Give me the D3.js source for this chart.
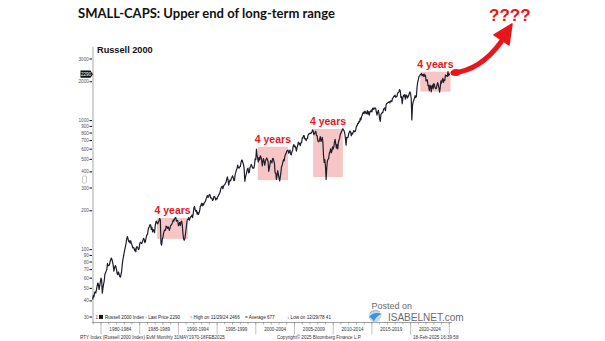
<!DOCTYPE html>
<html>
<head>
<meta charset="utf-8">
<script src="https://cdn.jsdelivr.net/npm/d3@7"></script>
<style>
	html, body { margin: 0; padding: 0; background: #fff; }
	svg { display: block; }
</style>
</head>
<body>
<div id="chart"></div>
<script>
// Russell 2000 monthly closes, Dec 1978 .. Feb 2025
var rtyClose = [
	41, // 1978 Dec
	44, 43, 46, 47, 46, 49, 52, 55, 54, 49, 52, 56, // 1979
	60, 58, 46, 50, 54, 57, 64, 66, 68, 70, 78, 75, // 1980
	75, 76, 80, 83, 86, 84, 80, 75, 68, 72, 75, 74, // 1981
	70, 65, 64, 67, 65, 62, 61, 64, 68, 77, 84, 89, // 1982
	95, 101, 106, 113, 122, 126, 121, 115, 117, 112, 117, 112, // 1983
	109, 103, 104, 103, 98, 101, 96, 105, 105, 104, 100, 101, // 1984
	111, 114, 113, 111, 114, 118, 122, 120, 113, 116, 124, 130, // 1985
	131, 141, 148, 150, 156, 155, 143, 149, 137, 143, 141, 135, // 1986
	152, 163, 166, 160, 158, 164, 168, 174, 170, 112, 108, 120, // 1987
	124, 134, 139, 142, 141, 152, 150, 146, 150, 146, 141, 147, // 1988
	154, 155, 158, 163, 170, 166, 172, 176, 177, 166, 168, 168, // 1989
	153, 158, 162, 153, 164, 166, 156, 135, 121, 118, 121, 132, // 1990
	145, 162, 171, 171, 177, 169, 175, 180, 180, 185, 177, 190, // 1991
	209, 216, 205, 198, 201, 188, 195, 187, 193, 200, 216, 221, // 1992
	228, 218, 227, 221, 230, 233, 237, 247, 255, 262, 254, 259, // 1993
	267, 266, 251, 252, 249, 240, 244, 257, 257, 253, 242, 250, // 1994
	247, 257, 261, 268, 273, 283, 299, 305, 310, 296, 309, 316, // 1995
	318, 328, 333, 351, 366, 347, 316, 336, 346, 341, 355, 363, // 1996
	373, 360, 342, 343, 381, 396, 414, 426, 452, 431, 428, 437, // 1997
	440, 472, 491, 494, 470, 457, 420, 338, 364, 379, 400, 422, // 1998
	427, 393, 397, 432, 440, 458, 445, 429, 428, 427, 453, 505, // 1999
	497, 600, 540, 506, 477, 517, 495, 533, 521, 497, 445, 484, // 2000
	508, 475, 450, 486, 498, 513, 500, 484, 404, 428, 458, 489, // 2001
	483, 470, 506, 510, 487, 463, 393, 392, 350, 375, 409, 383, // 2002
	360, 340, 364, 398, 440, 449, 478, 497, 487, 528, 546, 557, // 2003
	580, 585, 590, 559, 568, 591, 549, 541, 572, 585, 635, 652, // 2004
	624, 634, 615, 579, 617, 640, 680, 656, 667, 640, 675, 673, // 2005
	733, 731, 765, 765, 721, 724, 698, 721, 725, 766, 787, 788, // 2006
	800, 793, 800, 814, 847, 833, 777, 792, 806, 828, 767, 766, // 2007
	705, 686, 687, 714, 751, 689, 706, 740, 680, 537, 473, 499, // 2008
	443, 350, 423, 487, 501, 508, 557, 573, 604, 562, 580, 625, // 2009
	602, 628, 679, 716, 661, 610, 650, 602, 676, 703, 727, 784, // 2010
	798, 823, 843, 865, 848, 828, 797, 726, 644, 741, 737, 741, // 2011
	792, 811, 830, 817, 762, 798, 786, 812, 837, 818, 822, 849, // 2012
	902, 911, 952, 947, 984, 977, 1045, 1011, 1073, 1100, 1143, 1164, // 2013
	1131, 1183, 1173, 1127, 1135, 1193, 1121, 1174, 1102, 1174, 1173, 1205, // 2014
	1165, 1233, 1252, 1220, 1247, 1254, 1238, 1159, 1101, 1162, 1198, 1136, // 2015
	1035, 985, 1114, 1130, 1155, 1152, 1220, 1240, 1252, 1191, 1322, 1357, // 2016
	1362, 1387, 1385, 1400, 1370, 1415, 1425, 1405, 1490, 1502, 1544, 1535, // 2017
	1575, 1512, 1529, 1542, 1634, 1643, 1671, 1740, 1696, 1511, 1533, 1349, // 2018
	1499, 1575, 1540, 1591, 1466, 1567, 1575, 1495, 1523, 1562, 1625, 1668, // 2019
	1614, 1476, 1010, 1310, 1394, 1441, 1480, 1561, 1508, 1538, 1819, 1975, // 2020
	2073, 2201, 2221, 2267, 2269, 2311, 2226, 2274, 2204, 2297, 2199, 2245, // 2021
	2028, 2048, 2070, 1864, 1864, 1708, 1885, 1844, 1665, 1846, 1887, 1761, // 2022
	1932, 1897, 1802, 1768, 1774, 1889, 1966, 1900, 1785, 1662, 1810, 2027, // 2023
	1947, 2055, 2125, 1974, 2070, 2048, 2254, 2218, 2230, 2197, 2400, 2230, // 2024
	2288, 2290 // 2025
];
var firstMonth = new Date(1978, 11, 1);

// the four "4 years" ranges
var boxFrom = [new Date(1987, 3, 1), new Date(2000, 3, 1), new Date(2007, 5, 1), new Date(2021, 3, 1)];
var boxTo = [new Date(1991, 3, 1), new Date(2004, 2, 1), new Date(2011, 3, 1), new Date(2025, 2, 1)];
var boxHigh = [176, 627, 860, 2392];
var boxLow = [121, 345, 365, 1675];
var boxLabel = ['4 years', '4 years', '4 years', '4 years'];

var yTicks = [30, 40, 50, 60, 70, 80, 90, 100, 200, 300, 400, 500, 600, 700, 800, 900, 1000, 2000, 3000];
var periodLabels = ['1980-1984', '1985-1989', '1990-1994', '1995-1999', '2000-2004',
	'2005-2009', '2010-2014', '2015-2019', '2020-2024'];
var legendItems = ['Russell 2000 Index - Last Price 2290', '\u2191 High on 11/29/24 2466',
	'= Average 677', '\u2193 Low on 12/29/78 41'];
var lastPrice = 2290;

(function () {
	var width = 605;
	var height = 341;
	var red = '#e8161b';
	var lineColor = '#1d1d2b';
	var tiny = 4.6;

	var svg = d3.select('#chart').append('svg')
		.attr('width', width).attr('height', height)
		.style('font-family', '"Liberation Sans", Arial, sans-serif');

	var x = d3.scaleTime()
		.domain([new Date(1980, 0, 1), new Date(2025, 0, 1)])
		.range([101, 449.3]);
	var y = d3.scaleLog()
		.domain([30, 3000])
		.range([317, 59]);

	var series = rtyClose.map((v, i) => ({ date: d3.timeMonth.offset(firstMonth, i), value: v }));

	///////////////////////////////////////////////////////////////////////////
	////////// title and labels ///////////////////////////////////////////////
	///////////////////////////////////////////////////////////////////////////
	var title = svg.append('text')
		.attr('x', 78).attr('y', 18)
		.attr('font-family', 'Lato, "Open Sans", sans-serif')
		.attr('font-weight', 700)
		.attr('font-size', 16)
		.attr('fill', '#111')
		.text('SMALL-CAPS: Upper end of long-term range');
	var tw = title.node().getComputedTextLength();
	title.attr('font-size', 16 * 257 / tw);

	svg.append('text')
		.attr('x', 97).attr('y', 53)
		.attr('font-weight', 700)
		.attr('font-size', 9.2)
		.attr('fill', '#111')
		.text('Russell 2000');

	///////////////////////////////////////////////////////////////////////////
	////////// range boxes ////////////////////////////////////////////////////
	///////////////////////////////////////////////////////////////////////////
	var boxes = boxFrom.map((d, i) => ({ from: d, to: boxTo[i], high: boxHigh[i], low: boxLow[i], label: boxLabel[i] }));

	svg.append('g').selectAll('rect')
		.data(boxes)
		.enter().append('rect')
		.attr('x', d => x(d.from))
		.attr('y', d => y(d.high))
		.attr('width', d => x(d.to) - x(d.from))
		.attr('height', d => y(d.low) - y(d.high))
		.attr('fill', '#f6c6c6');

	svg.append('g').selectAll('text')
		.data(boxes)
		.enter().append('text')
		.attr('x', d => (x(d.from) + x(d.to)) / 2)
		.attr('y', d => y(d.high) - 4)
		.attr('text-anchor', 'middle')
		.attr('font-weight', 700)
		.attr('font-size', 10.5)
		.attr('fill', red)
		.text(d => d.label);

	///////////////////////////////////////////////////////////////////////////
	////////// axes ///////////////////////////////////////////////////////////
	///////////////////////////////////////////////////////////////////////////
	svg.append('line')
		.attr('x1', 93).attr('x2', 93)
		.attr('y1', 47).attr('y2', 323)
		.attr('stroke', '#c4c4c4').attr('stroke-width', 1.5);

	var yAxis = svg.append('g');
	yAxis.selectAll('line')
		.data(yTicks)
		.enter().append('line')
		.attr('x1', 89.5).attr('x2', 92)
		.attr('y1', d => y(d)).attr('y2', d => y(d))
		.attr('stroke', '#222').attr('stroke-width', 1.1);
	yAxis.selectAll('text')
		.data(yTicks)
		.enter().append('text')
		.attr('x', 88.8)
		.attr('y', d => y(d))
		.attr('dy', '0.35em')
		.attr('text-anchor', 'end')
		.attr('font-size', tiny)
		.attr('fill', '#555')
		.text(d => d);

	// small bracket glyph next to the 300 label
	svg.append('rect')
		.attr('x', 82.5).attr('y', 176).attr('width', 4).attr('height', 7)
		.attr('rx', 1)
		.attr('fill', 'none').attr('stroke', '#aaa').attr('stroke-width', 0.6);

	// last price marker
	var ly = y(lastPrice);
	svg.append('path')
		.attr('d', 'M' + [80.5, ly - 3.6] + ' L' + [90.5, ly - 3.6] + ' L' + [93, ly] + ' L' + [90.5, ly + 3.6] + ' L' + [80.5, ly + 3.6] + 'Z')
		.attr('fill', '#111');
	svg.append('text')
		.attr('x', 86).attr('y', ly).attr('dy', '0.35em')
		.attr('text-anchor', 'middle')
		.attr('font-size', tiny)
		.attr('fill', '#fff')
		.text(lastPrice);

	// bottom axis with five-year sections
	var xAxisY = 322.5;
	svg.append('line')
		.attr('x1', 92).attr('x2', 452)
		.attr('y1', xAxisY).attr('y2', xAxisY)
		.attr('stroke', '#888').attr('stroke-width', 0.8);

	var years = d3.timeYear.range(new Date(1979, 0, 1), new Date(2026, 0, 1));
	svg.append('g').selectAll('line')
		.data(years)
		.enter().append('line')
		.attr('x1', d => x(d)).attr('x2', d => x(d))
		.attr('y1', xAxisY).attr('y2', xAxisY + 2)
		.attr('stroke', '#777').attr('stroke-width', 0.6);

	var fiveYears = d3.timeYear.every(5).range(new Date(1980, 0, 1), new Date(2026, 0, 1));
	svg.append('g').selectAll('line')
		.data(fiveYears)
		.enter().append('line')
		.attr('x1', d => x(d)).attr('x2', d => x(d))
		.attr('y1', xAxisY).attr('y2', xAxisY + 12)
		.attr('stroke', '#999').attr('stroke-width', 0.6);

	svg.append('g').selectAll('text')
		.data(periodLabels)
		.enter().append('text')
		.attr('x', (d, i) => (x(fiveYears[i]) + x(fiveYears[i + 1])) / 2)
		.attr('y', 331)
		.attr('text-anchor', 'middle')
		.attr('font-size', tiny)
		.attr('fill', '#333')
		.text(d => d);

	///////////////////////////////////////////////////////////////////////////
	////////// the line ///////////////////////////////////////////////////////
	///////////////////////////////////////////////////////////////////////////
	var line = d3.line()
		.x(d => x(d.date))
		.y(d => y(d.value));

	svg.append('path')
		.datum(series)
		.attr('d', line)
		.attr('fill', 'none')
		.attr('stroke', lineColor)
		.attr('stroke-width', 1.2)
		.attr('stroke-linejoin', 'round');

	///////////////////////////////////////////////////////////////////////////
	////////// legend and footer //////////////////////////////////////////////
	///////////////////////////////////////////////////////////////////////////
	var legendY = 318.5;
	svg.append('text')
		.attr('x', 95.5).attr('y', legendY)
		.attr('font-size', tiny).attr('fill', '#333')
		.text('1');
	svg.append('rect')
		.attr('x', 99).attr('y', legendY - 3.6).attr('width', 4).attr('height', 4)
		.attr('fill', '#111');
	var legendX = [105, 190, 245, 287];
	svg.append('g').selectAll('text')
		.data(legendItems)
		.enter().append('text')
		.attr('x', (d, i) => legendX[i])
		.attr('y', legendY)
		.attr('font-size', tiny)
		.attr('fill', '#222')
		.text(d => d);

	var footer = [
		{ x: 80, text: 'RTY Index (Russell 2000 Index) EvM  Monthly 31MAY1970-18FEB2025' },
		{ x: 277, text: 'Copyright\u00a9 2025 Bloomberg Finance L.P.' },
		{ x: 413, text: '18-Feb-2025 16:39:58' }
	];
	svg.append('g').selectAll('text')
		.data(footer)
		.enter().append('text')
		.attr('x', d => d.x).attr('y', 338.5)
		.attr('font-size', tiny)
		.attr('fill', '#333')
		.text(d => d.text);

	///////////////////////////////////////////////////////////////////////////
	////////// arrow and question marks ///////////////////////////////////////
	///////////////////////////////////////////////////////////////////////////
	svg.append('path')
		.attr('d', 'M453,73 C472,71 488,60 501,42')
		.attr('fill', 'none')
		.attr('stroke', red)
		.attr('stroke-width', 5)
		.attr('stroke-linecap', 'round');
	svg.append('ellipse')
		.attr('cx', 456).attr('cy', 72.5).attr('rx', 4.5).attr('ry', 3.4)
		.attr('fill', red);
	svg.append('path')
		.attr('d', 'M512,24 L494,35 L509,45 Z')
		.attr('fill', red)
		.attr('stroke', red).attr('stroke-width', 1.5).attr('stroke-linejoin', 'round');

	svg.append('text')
		.attr('x', 489).attr('y', 20.5)
		.attr('font-weight', 700)
		.attr('font-size', 17)
		.attr('fill', red)
		.text('????');

	///////////////////////////////////////////////////////////////////////////
	////////// watermark //////////////////////////////////////////////////////
	///////////////////////////////////////////////////////////////////////////
	svg.append('text')
		.attr('x', 371.5).attr('y', 308.5)
		.attr('font-size', 9)
		.attr('fill', '#6b6b6b')
		.text('Posted on');
	var logo = svg.append('g').attr('transform', 'translate(375,316)');
	logo.append('circle').attr('r', 6.3).attr('fill', '#c9dcec');
	logo.append('path')
		.attr('d', 'M-6,1 C-3,-3 2,-4 7,-2 C3,-1 0,2 -1,6 C-2,3 -4,2 -6,1Z')
		.attr('fill', '#3e93d6');
	logo.append('path')
		.attr('d', 'M-5,-3 C-2,-6 3,-6 5,-4')
		.attr('fill', 'none').attr('stroke', '#8fb6d6').attr('stroke-width', 1);
	svg.append('text')
		.attr('x', 388).attr('y', 320.5)
		.attr('font-size', 10)
		.attr('fill', '#6b6b6b')
		.text('ISABELNET.com');
})();
</script>
</body>
</html>
